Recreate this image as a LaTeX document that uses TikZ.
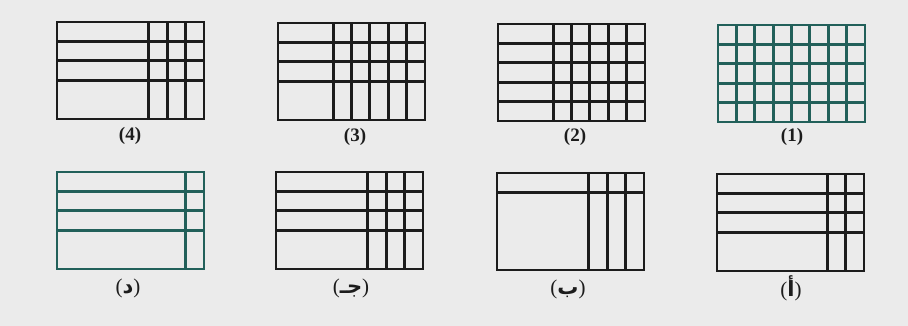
\documentclass[tikz,border=0pt]{standalone}
\usepackage{fontspec}
\setmainfont{Liberation Serif}
\newfontfamily\arabicfont[Script=Arabic]{DejaVu Sans}
\TeXXeTstate=1
\usepackage{tikz}
\definecolor{paper}{HTML}{EBEBEB}
\definecolor{gridblack}{HTML}{1C1C1C}
\definecolor{gridteal}{HTML}{22605A}

\begin{document}
\begin{tikzpicture}[
  x=1pt, y=-1pt,
  panel/.style={x=18.375pt, y=-19.4pt},
  frame/.style={draw=gridblack, line width=2.8pt},
  tframe/.style={frame, draw=gridteal},
  numlbl/.style={font=\fontsize{19}{22}\selectfont\bfseries, text=gridblack},
  arlbl/.style={font=\fontsize{21}{24}\selectfont, text=gridblack},
]

%% ---- Fondo y marco de la imagen ----
\useasboundingbox (0,0) rectangle (908,326);
\fill[paper] (0,0) rectangle (908,326);

%% ---- Fila superior ----
%% (4): bloque ancho de 5 columnas
\begin{scope}[shift={(57,22)}, panel]
  \draw[frame] (0,0) rectangle (8,5)
    (0,1) -- (8,1) (0,2) -- (8,2) (0,3) -- (8,3)
    (5,0) -- (5,5) (6,0) -- (6,5) (7,0) -- (7,5);
\end{scope}
\node[numlbl] (lbl4) at (130,136) {(4)};

%% (3): bloque de 3 columnas, tres filas
\begin{scope}[shift={(278,23)}, panel]
  \draw[frame] (0,0) rectangle (8,5)
    (0,1) -- (8,1) (0,2) -- (8,2) (0,3) -- (8,3)
    (3,0) -- (3,5) (4,0) -- (4,5) (5,0) -- (5,5) (6,0) -- (6,5) (7,0) -- (7,5);
\end{scope}
\node[numlbl] (lbl3) at (355,137) {(3)};

%% (2): bloque de 3 columnas, cuatro filas
\begin{scope}[shift={(498,24)}, panel]
  \draw[frame] (0,0) rectangle (8,5)
    (0,1) -- (8,1) (0,2) -- (8,2) (0,3) -- (8,3) (0,4) -- (8,4)
    (3,0) -- (3,5) (4,0) -- (4,5) (5,0) -- (5,5) (6,0) -- (6,5) (7,0) -- (7,5);
\end{scope}
\node[numlbl] (lbl2) at (575,137) {(2)};

%% (1): rejilla completa 8 x 5 en verde azulado
\begin{scope}[shift={(718,25)}, panel]
  \draw[tframe] (0,0) rectangle (8,5)
    (0,1) -- (8,1) (0,2) -- (8,2) (0,3) -- (8,3) (0,4) -- (8,4)
    (1,0) -- (1,5) (2,0) -- (2,5) (3,0) -- (3,5) (4,0) -- (4,5)
    (5,0) -- (5,5) (6,0) -- (6,5) (7,0) -- (7,5);
\end{scope}
\node[numlbl] (lbl1) at (792,137) {(1)};

%% ---- Fila inferior ----
%% (د): tres filas, una columna, verde azulado
\begin{scope}[shift={(57,172)}, panel]
  \draw[tframe] (0,0) rectangle (8,5)
    (0,1) -- (8,1) (0,2) -- (8,2) (0,3) -- (8,3)
    (7,0) -- (7,5);
\end{scope}
\node[arlbl] (lbld) at (128,288) {({\arabicfont\bfseries\beginR د\endR})};

%% (جـ): tres filas, tres columnas
\begin{scope}[shift={(276,172)}, panel]
  \draw[frame] (0,0) rectangle (8,5)
    (0,1) -- (8,1) (0,2) -- (8,2) (0,3) -- (8,3)
    (5,0) -- (5,5) (6,0) -- (6,5) (7,0) -- (7,5);
\end{scope}
\node[arlbl] (lblj) at (351,288) {({\arabicfont\bfseries\beginR جـ\endR})};

%% (ب): una fila, tres columnas
\begin{scope}[shift={(497,173)}, panel]
  \draw[frame] (0,0) rectangle (8,5)
    (0,1) -- (8,1)
    (5,0) -- (5,5) (6,0) -- (6,5) (7,0) -- (7,5);
\end{scope}
\node[arlbl] (lblb) at (568,289) {({\arabicfont\bfseries\beginR ب\endR})};

%% (أ): tres filas, dos columnas
\begin{scope}[shift={(717,174)}, panel]
  \draw[frame] (0,0) rectangle (8,5)
    (0,1) -- (8,1) (0,2) -- (8,2) (0,3) -- (8,3)
    (6,0) -- (6,5) (7,0) -- (7,5);
\end{scope}
\node[arlbl] (lbla) at (791,288) {({\arabicfont\bfseries\beginR أ\endR})};

\end{tikzpicture}
\end{document}
